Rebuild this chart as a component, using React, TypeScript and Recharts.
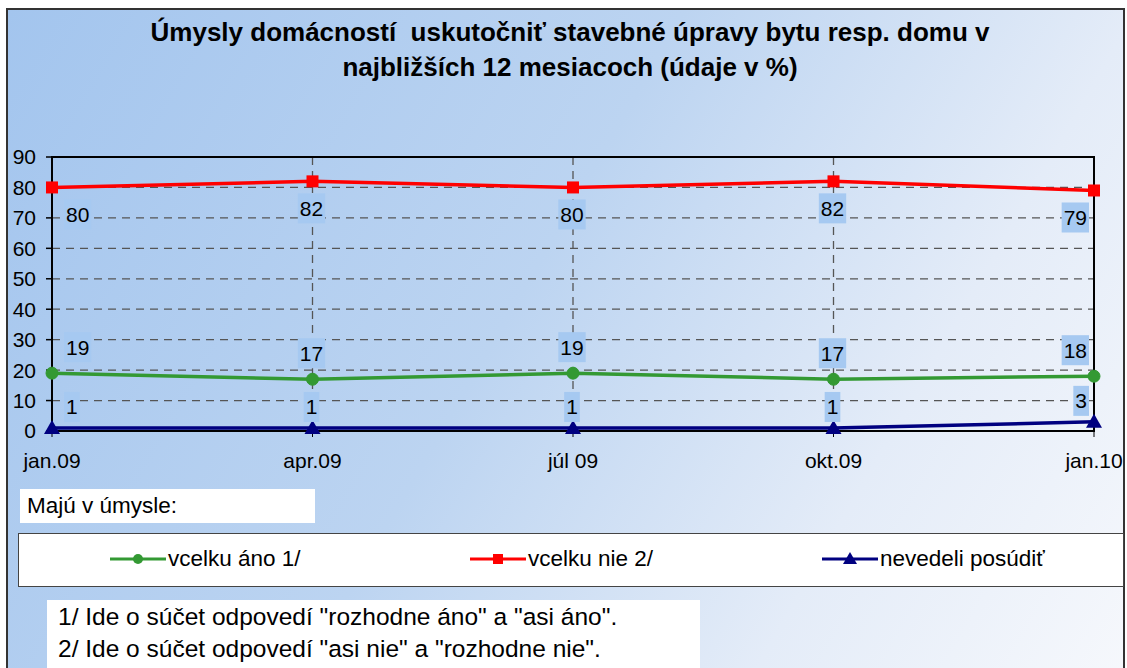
import React from "react";
import {
  LineChart,
  Line,
  XAxis,
  YAxis,
  CartesianGrid,
  ReferenceArea,
} from "recharts";

const categories = ["jan.09", "apr.09", "júl 09", "okt.09", "jan.10"];
const vcelkuAno = [19, 17, 19, 17, 18];
const vcelkuNie = [80, 82, 80, 82, 79];
const nevedeli = [1, 1, 1, 1, 3];
const yTicks = [0, 10, 20, 30, 40, 50, 60, 70, 80, 90];

const titleLines = [
  "Úmysly domácností  uskutočniť stavebné úpravy bytu resp. domu v",
  "najbližších 12 mesiacoch (údaje v %)",
];
const legendHeader = "Majú v úmysle:";
const footnotes = [
  '1/ Ide o súčet odpovedí "rozhodne áno" a "asi áno".',
  '2/ Ide o súčet odpovedí "asi nie" a "rozhodne nie".',
];

const series = [
  { key: "ano", name: "vcelku áno 1/", color: "#339933", shape: "circle", values: vcelkuAno, labelDy: -26 },
  { key: "nie", name: "vcelku nie 2/", color: "#ff0000", shape: "square", values: vcelkuNie, labelDy: 27 },
  { key: "nev", name: "nevedeli posúdiť", color: "#000080", shape: "triangle", values: nevedeli, labelDy: -21 },
];

const data = categories.map((c, i) => ({
  cat: c,
  ano: vcelkuAno[i],
  nie: vcelkuNie[i],
  nev: nevedeli[i],
}));

const FONT = "'Liberation Sans', Arial, sans-serif";
const LABEL_FS = 21;

function makeDot(shape: string, color: string) {
  return (props: any) => {
    const { cx, cy, index } = props;
    if (cx == null || cy == null) return null;
    if (shape === "circle")
      return <circle key={index} cx={cx} cy={cy} r={6} fill={color} stroke={color} />;
    if (shape === "square")
      return <rect key={index} x={cx - 6} y={cy - 6} width={12} height={12} fill={color} />;
    return (
      <polygon
        key={index}
        points={`${cx},${cy - 8} ${cx - 8},${cy + 6} ${cx + 8},${cy + 6}`}
        fill={color}
      />
    );
  };
}

function makeLabel(dy: number) {
  return (props: any) => {
    const { x, y, value, index } = props;
    const txt = String(value);
    const w = txt.length * LABEL_FS * 0.556 + 4;
    const h = 30;
    let left: number;
    if (index === 0) left = x + 12;
    else if (index === categories.length - 1) left = x - 5 - w;
    else left = x - w / 2 - 1;
    const cy = y + dy;
    return (
      <g key={index}>
        <rect x={left} y={cy - h / 2} width={w} height={h} fill="#a6c9f1" />
        <text
          x={left + w / 2}
          y={cy}
          textAnchor="middle"
          dominantBaseline="central"
          fontSize={LABEL_FS}
          fontFamily={FONT}
          fill="#000"
        >
          {txt}
        </text>
      </g>
    );
  };
}

function LegendSymbol({ shape, color }: { shape: string; color: string }) {
  return (
    <svg width={56} height={16} style={{ display: "block" }}>
      <line x1={0} y1={8} x2={56} y2={8} stroke={color} strokeWidth={3} />
      {shape === "circle" && <circle cx={28} cy={8} r={5} fill={color} />}
      {shape === "square" && <rect x={23} y={3} width={10} height={10} fill={color} />}
      {shape === "triangle" && <polygon points="28,1 21,13 35,13" fill={color} />}
    </svg>
  );
}

const legendX = [110, 470, 822];

export default function App() {
  return (
    <div
      style={{
        position: "absolute",
        left: 0,
        top: 0,
        width: 1127,
        height: 668,
        overflow: "hidden",
        fontFamily: FONT,
        background: "#fff",
      }}
    >
      <div
        style={{
          position: "absolute",
          left: 6,
          top: 8,
          width: 1119,
          height: 680,
          border: "2px solid #333",
          boxSizing: "border-box",
          background:
            "linear-gradient(120deg, #a3c5ee 0%, #bcd4f1 45%, #e4ecf8 75%, #f6f8fc 100%)",
        }}
      />
      {titleLines.map((t, i) => (
        <div
          key={i}
          style={{
            position: "absolute",
            left: 0,
            width: 1140,
            top: 17 + i * 35,
            height: 30,
            lineHeight: "30px",
            textAlign: "center",
            fontWeight: "bold",
            fontSize: 26,
            color: "#000",
            whiteSpace: "pre",
          }}
        >
          {t}
        </div>
      ))}
      <div style={{ position: "absolute", left: 0, top: 0 }}>
        <LineChart
          width={1127}
          height={490}
          data={data}
          margin={{ top: 157, right: 33, left: 12, bottom: 29 }}
        >
          <CartesianGrid
            stroke="#555"
            strokeDasharray="8 6"
            strokeWidth={1.3}
            horizontal
            vertical
          />
          <XAxis
            dataKey="cat"
            axisLine={{ stroke: "#000", strokeWidth: 2 }}
            tickLine={{ stroke: "#000" }}
            tickSize={6}
            tickMargin={16}
            height={30}
            tick={{ fill: "#000", fontSize: 21, fontFamily: FONT }}
            interval={0}
          />
          <YAxis
            domain={[0, 90]}
            ticks={yTicks}
            width={40}
            axisLine={{ stroke: "#000", strokeWidth: 2 }}
            tickLine={{ stroke: "#000", strokeWidth: 1.5 }}
            tickSize={6}
            tickMargin={10}
            tick={{ fill: "#000", fontSize: 21, fontFamily: FONT }}
            interval={0}
          />
          <ReferenceArea
            x1={categories[0]}
            x2={categories[categories.length - 1]}
            y1={0}
            y2={90}
            fill="none"
            stroke="#000"
            strokeWidth={2}
            ifOverflow="visible"
          />
          {series.map((s) => (
            <Line
              key={s.key}
              dataKey={s.key}
              name={s.name}
              stroke={s.color}
              strokeWidth={3.5}
              dot={makeDot(s.shape, s.color)}
              activeDot={false}
              label={makeLabel(s.labelDy)}
              isAnimationActive={false}
            />
          ))}
        </LineChart>
      </div>
      <div
        style={{
          position: "absolute",
          left: 20,
          top: 489,
          width: 295,
          height: 34,
          background: "#fff",
          fontSize: 22.5,
          lineHeight: "34px",
          paddingLeft: 7,
          boxSizing: "border-box",
          whiteSpace: "pre",
        }}
      >
        {legendHeader}
      </div>
      <div
        style={{
          position: "absolute",
          left: 18,
          top: 533,
          width: 1106,
          height: 54,
          background: "#fff",
          border: "1.5px solid #444",
          boxSizing: "border-box",
        }}
      />
      {series.map((s, i) => (
        <div
          key={s.key}
          style={{
            position: "absolute",
            left: legendX[i],
            top: 544,
            height: 30,
            display: "flex",
            alignItems: "center",
            fontSize: 22.5,
            whiteSpace: "pre",
          }}
        >
          <LegendSymbol shape={s.shape} color={s.color} />
          <span style={{ marginLeft: 2 }}>{s.name}</span>
        </div>
      ))}
      <div
        style={{
          position: "absolute",
          left: 47,
          top: 600,
          width: 653,
          height: 70,
          background: "#fff",
          fontSize: 24.5,
          boxSizing: "border-box",
        }}
      >
        {footnotes.map((f, i) => (
          <div
            key={i}
            style={{
              position: "absolute",
              left: 11,
              top: 3 + i * 32,
              height: 28,
              lineHeight: "28px",
              whiteSpace: "pre",
            }}
          >
            {f}
          </div>
        ))}
      </div>
    </div>
  );
}
